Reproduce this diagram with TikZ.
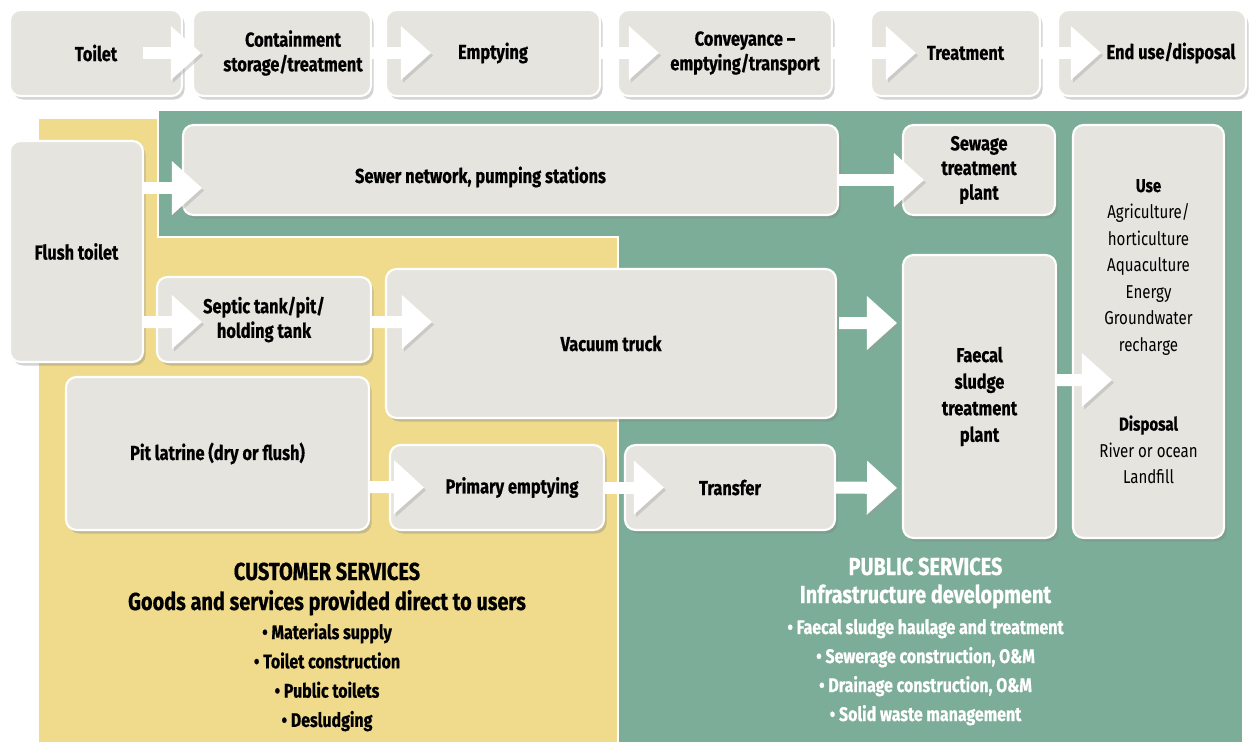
\documentclass[tikz,border=0pt]{standalone}
\usepackage{fontspec}
\setmainfont{Fira Sans}[FakeStretch=0.81,BoldFeatures={FakeBold=0.6}]
\usetikzlibrary{arrows.meta,shadows}

\definecolor{boxgray}{HTML}{E5E4DE}
\definecolor{publicgreen}{HTML}{7CAD98}
\definecolor{customeryellow}{HTML}{F0DA8C}

\begin{document}
\begin{tikzpicture}[
  stage/.style={rectangle,rounded corners=6pt,draw=white,line width=1.2pt,fill=boxgray,
    drop shadow={shadow xshift=1.5pt,shadow yshift=-2pt,opacity=.35},
    font=\fontsize{11.5}{14}\selectfont\bfseries,align=center,inner sep=2pt},
  stagetext/.style={font=\fontsize{11.5}{14}\selectfont\bfseries,align=center,inner sep=0pt},
  flow/.style={draw=white,line width=0.24cm,
    -{Triangle[length=0.6cm,width=1.08cm,line width=0pt]},
    preaction={draw=black!40,opacity=.35,transform canvas={xshift=1.2pt,yshift=-1.5pt}}},
  area/.style={draw=white,line width=1.2pt},
  heading/.style={font=\fontsize{14}{16}\selectfont\bfseries,anchor=base,inner sep=0pt},
  subheading/.style={font=\fontsize{14}{16}\selectfont\bfseries,anchor=base,inner sep=0pt},
  listitem/.style={font=\fontsize{11.2}{13}\selectfont\bfseries,anchor=base,inner sep=0pt}]

  \useasboundingbox (0,0) rectangle (25,-14.86);

  % service areas
  \fill[customeryellow,area] (0.76,-2.36) -- (3.16,-2.36) -- (3.16,-4.74) -- (12.36,-4.74)
    -- (12.36,-14.86) -- (0.76,-14.86) -- cycle;
  \fill[publicgreen,area] (3.16,-2.2) -- (24.86,-2.2) -- (24.86,-14.86) -- (12.36,-14.86)
    -- (12.36,-4.74) -- (3.16,-4.74) -- cycle;

  % sanitation chain
  \node[stage,minimum width=3.44cm,minimum height=1.72cm] (toilet) at (1.92,-1.06) {Toilet};
  \node[stage,minimum width=3.56cm,minimum height=1.72cm,
    label={[stagetext,xshift=0.22cm]center:Containment\\storage/treatment}] (contain) at (5.64,-1.06) {};
  \node[stage,minimum width=4.28cm,minimum height=1.72cm] (empty) at (9.86,-1.06) {Emptying};
  \node[stage,minimum width=4.28cm,minimum height=1.72cm,
    label={[stagetext,xshift=0.4cm]center:Conveyance –\\emptying/transport}] (convey) at (14.5,-1.06) {};
  \node[stage,minimum width=3.38cm,minimum height=1.72cm,
    label={[stagetext,xshift=0.2cm]center:Treatment}] (treat) at (19.11,-1.06) {};
  \node[stage,minimum width=3.76cm,minimum height=1.72cm,
    label={[stagetext,xshift=0.38cm]center:End use/disposal}] (enduse) at (23.04,-1.06) {};

  % systems
  \node[stage,minimum width=2.66cm,minimum height=4.42cm] (flush) at (1.53,-5.03) {Flush toilet};
  \node[stage,minimum width=13.1cm,minimum height=1.8cm,
    label={[stagetext,xshift=-0.6cm,yshift=-0.14cm]center:Sewer network, pumping stations}] (sewer) at (10.21,-3.4) {};
  \node[stage,minimum width=3.04cm,minimum height=1.8cm] (stp) at (19.58,-3.4) {Sewage\\treatment\\plant};
  \node[stage,minimum width=3.02cm,minimum height=8.26cm,font=\fontsize{10.6}{15.1}\selectfont] (use) at (22.97,-6.63)
    {\textbf{Use}\\Agriculture/\\horticulture\\Aquaculture\\Energy\\Groundwater\\recharge\\[30pt]
     \textbf{Disposal}\\River or ocean\\Landfill};
  \node[stage,minimum width=4.28cm,minimum height=1.7cm] (septic) at (5.28,-6.39) {Septic tank/pit/\\holding tank};
  \node[stage,minimum width=9cm,minimum height=2.98cm] (vacuum) at (12.22,-6.87) {Vacuum truck};
  \node[stage,minimum width=3.06cm,minimum height=5.66cm,font=\fontsize{11.5}{15.1}\selectfont\bfseries] (fstp) at (19.59,-7.93)
    {Faecal\\sludge\\treatment\\plant};
  \node[stage,minimum width=6.06cm,minimum height=3.06cm] (pit) at (4.35,-9.07) {Pit latrine (dry or flush)};
  \node[stage,minimum width=4.28cm,minimum height=1.7cm,
    label={[stagetext,xshift=0.3cm]center:Primary emptying}] (primary) at (9.94,-9.75) {};
  \node[stage,minimum width=4.2cm,minimum height=1.7cm] (transfer) at (14.6,-9.75) {Transfer};

  % flows
  \draw[flow] ([xshift=-0.8cm]toilet.east) -- ([xshift=0.18cm]contain.west);
  \draw[flow] (contain.east) -- ([xshift=0.92cm]empty.west);
  \draw[flow] (empty.east) -- ([xshift=0.84cm]convey.west);
  \draw[flow] (convey.east) -- ([xshift=0.92cm]treat.west);
  \draw[flow] (treat.east) -- ([xshift=0.88cm]enduse.west);
  \draw[flow] ([yshift=1.27cm]flush.east) -- ([xshift=0.4cm,yshift=-0.36cm]sewer.west);
  \draw[flow] ([yshift=-0.2cm]sewer.east) -- ([xshift=0.44cm,yshift=-0.2cm]stp.west);
  \draw[flow] ([yshift=-1.41cm]flush.east) -- ([xshift=0.92cm,yshift=-0.05cm]septic.west);
  \draw[flow] ([yshift=-0.05cm]septic.east) -- ([xshift=0.94cm,yshift=0.43cm]vacuum.west);
  \draw[flow] ([xshift=0.04cm,yshift=0.41cm]vacuum.east) -- ([xshift=-0.1cm,yshift=1.47cm]fstp.west);
  \draw[flow] ([yshift=-0.67cm]pit.east) -- ([xshift=0.7cm]primary.west);
  \draw[flow] (primary.east) -- ([xshift=0.8cm]transfer.west);
  \draw[flow] (transfer.east) -- ([xshift=-0.1cm,yshift=-1.83cm]fstp.west);
  \draw[flow] ([yshift=0.33cm]fstp.east) -- ([xshift=0.8cm,yshift=-0.97cm]use.west);

  % services
  \node[heading] (cust-head) at (6.54,-11.6) {CUSTOMER SERVICES};
  \node[subheading] (cust-sub) at (6.54,-12.2) {Goods and services provided direct to users};
  \foreach \txt [count=\i] in {Materials supply,Toilet construction,Public toilets,Desludging}
    \node[listitem] (cust-\i) at (6.54,{-12.78-0.586*(\i-1)}) {• \txt};
  \node[heading,text=white] (pub-head) at (18.51,-11.5) {PUBLIC SERVICES};
  \node[subheading,text=white] (pub-sub) at (18.51,-12.06) {Infrastructure development};
  \foreach \txt [count=\i] in {Faecal sludge haulage and treatment,{Sewerage construction, O\&M},
      {Drainage construction, O\&M},Solid waste management}
    \node[listitem,text=white] (pub-\i) at (18.51,{-12.68-0.58*(\i-1)}) {• \txt};
\end{tikzpicture}
\end{document}
